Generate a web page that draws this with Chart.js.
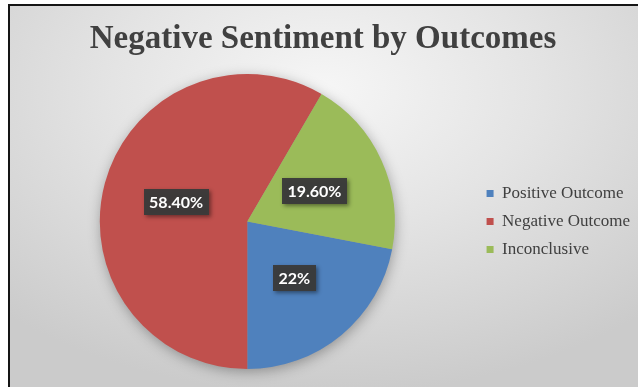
<!DOCTYPE html>
<html>
<head>
<meta charset="utf-8">
<script src="https://cdn.jsdelivr.net/npm/chart.js@4/dist/chart.umd.min.js"></script>
<style>
  html, body { margin: 0; padding: 0; background: #ffffff; }
  body { width: 638px; height: 387px; position: relative; overflow: hidden; }
  #frame {
    position: absolute; left: 8px; top: 4px;
    width: 628px; height: 381px;
    border-left: 2px solid #151515; border-top: 2px solid #151515;
    background: radial-gradient(ellipse 75% 80% at 50% 22%, #f6f6f6 0%, #e4e4e4 45%, #cbcbcb 100%);
  }
  canvas { display: block; }
</style>
</head>
<body>
<div id="frame"><canvas id="chart" width="628" height="381"></canvas></div>
<script>
const chartTitle = 'Negative Sentiment by Outcomes';
const categories = ['Positive Outcome', 'Negative Outcome', 'Inconclusive'];
const shares = [22, 58.4, 19.6];
const shareLabels = ['22%', '58.40%', '19.60%'];
const sliceColors = ['#4F81BD', '#C0504D', '#9BBB59'];

// heading centred over the whole plot area
const heading = {
  id: 'heading',
  afterDraw(chart) {
    const ctx = chart.ctx;
    ctx.save();
    ctx.font = 'bold 33px "Liberation Serif", "Times New Roman", serif';
    ctx.fillStyle = '#404040';
    ctx.textAlign = 'center';
    ctx.textBaseline = 'alphabetic';
    ctx.fillText(chartTitle, 313, 42);
    ctx.restore();
  }
};

// soft drop shadow under the whole pie
const pieShadow = {
  id: 'pieShadow',
  beforeDatasetsDraw(chart) {
    const arc = chart.getDatasetMeta(0).data[0];
    if (!arc) return;
    const {x, y, outerRadius} = arc.getProps(['x', 'y', 'outerRadius'], true);
    const ctx = chart.ctx;
    ctx.save();
    ctx.shadowColor = 'rgba(0,0,0,0.35)';
    ctx.shadowBlur = 14;
    ctx.shadowOffsetX = 1;
    ctx.shadowOffsetY = 3;
    ctx.fillStyle = '#9a9a9a';
    ctx.beginPath();
    ctx.arc(x, y, outerRadius - 1, 0, Math.PI * 2);
    ctx.fill();
    ctx.restore();
  }
};

// dark value boxes at the middle of each slice
const valueBoxes = {
  id: 'valueBoxes',
  afterDatasetsDraw(chart) {
    const ctx = chart.ctx;
    const meta = chart.getDatasetMeta(0);
    ctx.save();
    ctx.font = 'bold 16px Lato, "Open Sans", sans-serif';
    ctx.textAlign = 'center';
    ctx.textBaseline = 'middle';
    meta.data.forEach((arc, i) => {
      const {x, y} = arc.tooltipPosition(true);
      const text = shareLabels[i];
      const w = ctx.measureText(text).width + 11;
      const h = 26;
      ctx.save();
      ctx.shadowColor = 'rgba(0,0,0,0.45)';
      ctx.shadowBlur = 4;
      ctx.shadowOffsetX = 2;
      ctx.shadowOffsetY = 2;
      ctx.fillStyle = 'rgba(58,58,58,0.96)';
      ctx.fillRect(Math.round(x - w / 2), Math.round(y - h / 2), Math.round(w), h);
      ctx.restore();
      ctx.fillStyle = '#ffffff';
      ctx.fillText(text, x, y + 1);
    });
    ctx.restore();
  }
};

new Chart(document.getElementById('chart'), {
  type: 'pie',
  data: {
    labels: categories,
    datasets: [{
      data: shares,
      backgroundColor: sliceColors,
      borderWidth: 0
    }]
  },
  options: {
    responsive: false,
    animation: false,
    rotation: 100.8,
    layout: { padding: { left: 9, right: -2, top: 68, bottom: 18 } },
    plugins: {
      title: { display: false },
      legend: {
        position: 'right',
        fullSize: false,
        labels: {
          boxWidth: 7,
          boxHeight: 7,
          padding: 11,
          color: '#404040',
          font: { family: '"Liberation Serif", "Times New Roman", serif', size: 17 }
        }
      },
      tooltip: { enabled: false }
    }
  },
  plugins: [pieShadow, valueBoxes, heading]
});
</script>
</body>
</html>
